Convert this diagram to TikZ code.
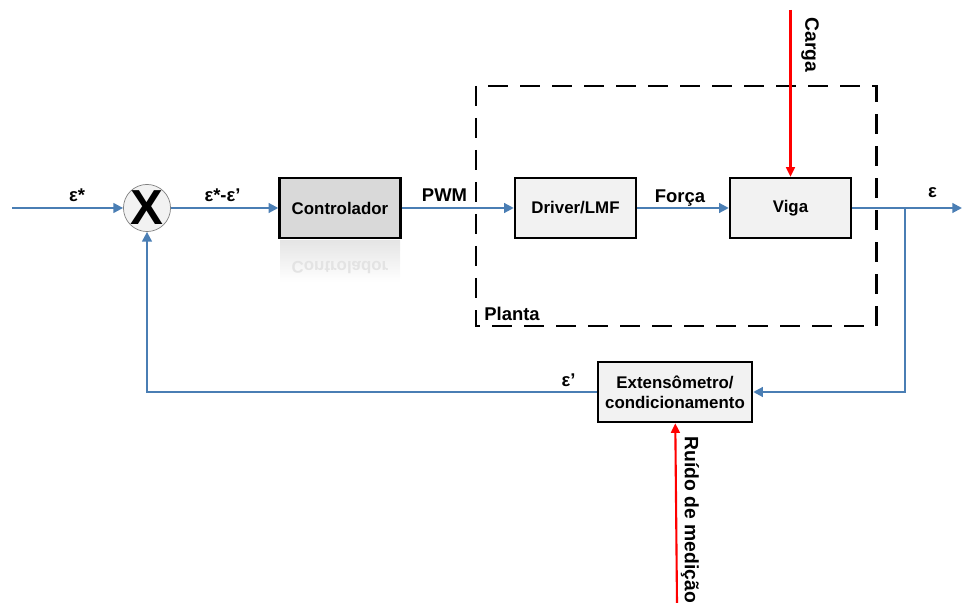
\documentclass[tikz,border=0pt]{standalone}
\usepackage{fontspec}
\setmainfont{Liberation Sans}
\usetikzlibrary{arrows.meta}

\definecolor{azul}{RGB}{74,126,180}
\definecolor{caixa}{RGB}{242,242,242}

\begin{document}
\begin{tikzpicture}[x=0.2mm, y=-0.2mm,
	bloco/.style = {draw, line width=1.4pt, fill=caixa, minimum width=2.42cm, minimum height=1.2cm, align=center, font=\fontsize{9.6}{11.5}\selectfont\bfseries},
	somador/.style = {circle, draw=gray, fill=caixa, minimum size=0.8cm, inner sep=0pt, font=\fontsize{28}{28}\selectfont\bfseries},
	rotulo/.style = {font=\fontsize{10.5}{12}\selectfont\bfseries},
	vertical/.style = {rotulo, rotate=-90, font=\fontsize{11}{12}\selectfont\bfseries},
	sinal/.style = {draw=azul, line width=1.2pt, -{Triangle[length=5.5pt,width=5.5pt]}},
	perturba/.style = {draw=red, line width=1.2pt, -{Triangle[length=5.5pt,width=5pt]}},
	planta/.style = {line width=1.7pt, dash pattern=on 0.4cm off 0.24cm}]
	\useasboundingbox (0,0) rectangle (962,603);

	% planta (tracejado)
	\draw[planta] (476,86) rectangle (876,326);
	\node[rotulo, anchor=south west, inner sep=0pt] (nplanta) at (484,321) {Planta};

	% reflexo do controlador
	\shade[top color=gray!20, bottom color=white] (280,241) rectangle (400,282);
	\node[font=\fontsize{9.6}{11.5}\selectfont\bfseries, text=gray!22, yscale=-1] (reflexo) at (340,268) {Controlador};

	% blocos
	\node[somador] (soma) at (147,208) {X};
	\node[bloco, fill=gray!30] (ctrl) at (340,208) {Controlador};
	\node[bloco] (driver) at (575.5,208) {Driver/LMF};
	\node[bloco] (viga) at (790.5,208) {Viga};
	\node[bloco, minimum width=3.08cm] (sensor) at (675,392) {Extensômetro/\\condicionamento};

	\coordinate (entrada) at (12,208);
	\coordinate (saida) at (962,208);
	\coordinate (ramo) at (905,208);
	\coordinate (carga) at (790.5,10);
	\coordinate (ruido) at (677,603);

	% sinais
	\draw[sinal] (entrada) -- (soma);
	\draw[sinal] (soma) -- (ctrl);
	\draw[sinal] (ctrl) -- (driver);
	\draw[sinal] (driver) -- (viga);
	\draw[sinal] (viga) -- (saida);
	\draw[sinal] (ramo) |- (sensor);
	\draw[sinal] (sensor) -| (soma);

	% perturbacoes
	\draw[perturba] (carga) -- (viga);
	\draw[perturba] (ruido) -- (sensor);

	% rotulos
	\node[rotulo, anchor=base] (leref) at (77,202) {ε*};
	\node[rotulo, anchor=base] (lerro) at (222.5,202) {ε*-ε’};
	\node[rotulo, anchor=base] (lpwm) at (444.5,202) {PWM};
	\node[rotulo, anchor=base] (lforca) at (680,203) {Força};
	\node[rotulo, anchor=base] (lsaida) at (932.5,198) {ε};
	\node[rotulo, anchor=base] (lmedida) at (568.5,387) {ε’};
	\node[vertical] (lcarga) at (810,45) {Carga};
	\node[vertical, anchor=west, inner sep=0pt] (lruido) at (690,436) {Ruído de medição};
\end{tikzpicture}
\end{document}
